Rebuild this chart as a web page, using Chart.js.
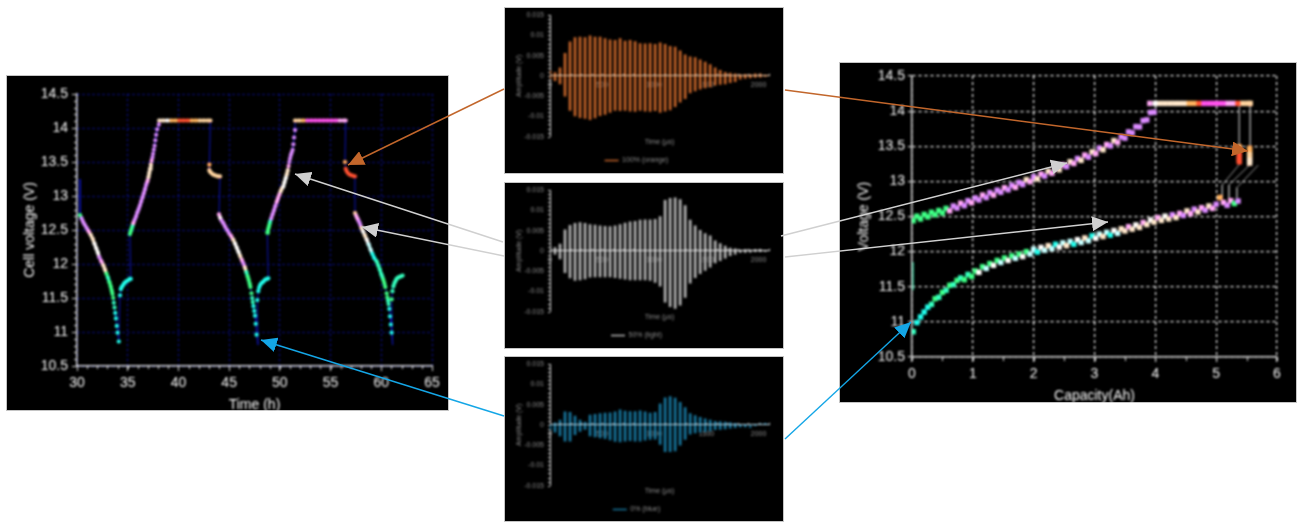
<!DOCTYPE html>
<html>
<head>
<meta charset="utf-8">
<title>Cell voltage and acoustic signals</title>
<script src="https://cdn.jsdelivr.net/npm/chart.js@4/dist/chart.umd.js"></script>
<style>
  html, body { margin: 0; background: #fff; width: 1297px; height: 522px; overflow: hidden; }
  .panel { position: absolute; background: #000; outline: 1px solid #c4c4c4; outline-offset: -1px; overflow: hidden; }
  .panel canvas { display: block; filter: blur(0.8px) brightness(1.1); }
  .panel.wave canvas { filter: blur(0.8px); }
  #arrows { position: absolute; left: 0; top: 0; pointer-events: none; }
</style>
</head>
<body>
<div class="panel" style="left:6px;top:75px;width:443px;height:336px"><canvas id="timeChart" width="443" height="336"></canvas></div>
<div class="panel wave" style="left:504px;top:7px;width:280px;height:167px"><canvas id="wave100" width="280" height="167"></canvas></div>
<div class="panel wave" style="left:504px;top:182px;width:280px;height:167px"><canvas id="wave50" width="280" height="167"></canvas></div>
<div class="panel wave" style="left:504px;top:356px;width:280px;height:166px"><canvas id="wave0" width="280" height="167"></canvas></div>
<div class="panel" style="left:839px;top:62px;width:458px;height:341px"><canvas id="capChart" width="458" height="341"></canvas></div>

<!-- arrows between the panels -->
<svg id="arrows" width="1297" height="522">
  <defs>
    <marker id="headO" markerUnits="userSpaceOnUse" markerWidth="17" markerHeight="15" refX="16" refY="7.5" orient="auto"><path d="M0 0L16 7.5L0 15z" fill="#c2662b"/></marker>
    <marker id="headG" markerUnits="userSpaceOnUse" markerWidth="17" markerHeight="15" refX="16" refY="7.5" orient="auto"><path d="M0 0L16 7.5L0 15z" fill="#d0d0d0"/></marker>
    <marker id="headB" markerUnits="userSpaceOnUse" markerWidth="17" markerHeight="15" refX="16" refY="7.5" orient="auto"><path d="M0 0L16 7.5L0 15z" fill="#14a6e6"/></marker>
  </defs>
  <g fill="none" stroke-width="1.4">
    <line x1="504" y1="89" x2="348" y2="165" stroke="#c2662b" marker-end="url(#headO)"/>
    <line x1="503" y1="242" x2="295" y2="174" stroke="#d0d0d0" marker-end="url(#headG)"/>
    <line x1="504" y1="256" x2="362" y2="227" stroke="#d0d0d0" marker-end="url(#headG)"/>
    <line x1="504" y1="416" x2="261" y2="340" stroke="#14a6e6" marker-end="url(#headB)"/>
    <line x1="785" y1="90" x2="1248" y2="151" stroke="#c2662b" marker-end="url(#headO)"/>
    <line x1="781" y1="236" x2="1067" y2="163" stroke="#d0d0d0" marker-end="url(#headG)"/>
    <line x1="785" y1="257" x2="1108" y2="222" stroke="#d0d0d0" marker-end="url(#headG)"/>
    <line x1="785" y1="439" x2="911" y2="322" stroke="#14a6e6" marker-end="url(#headB)"/>
  </g>
</svg>

<script>
// Left chart: cell voltage vs time, one line per run
const cellTime = [
  30.3,
  30.3,30.45,30.6,30.75,30.95,31.15,31.35,31.55,31.72,31.9,32.05,32.2,32.4,32.6,32.75,32.9,33.05,33.2,33.32,33.42,33.5,33.57,33.63,33.7,33.77,33.84,33.92,34.0,34.12,
  34.24,34.32,34.4,34.5,34.62,34.75,34.9,35.05,35.2,35.3,
  35.22,35.3,35.38,35.47,35.55,35.68,35.82,35.95,36.08,36.2,36.33,36.46,36.58,36.7,36.83,36.95,37.05,37.13,37.2,37.28,37.36,37.44,37.5,37.57,37.65,37.72,37.8,37.9,38.07,
  38.1,38.5,38.9,39.3,39.7,40.1,40.5,40.9,41.3,41.7,42.1,42.5,42.9,43.15,
  43.05,43.05,43.15,43.3,43.5,43.7,43.9,44.1,
  44.0,44.12,44.25,44.43,44.6,44.8,45.0,45.2,45.4,45.58,45.75,45.92,46.08,46.25,46.4,46.55,46.7,46.82,46.92,47.02,47.1,47.2,47.27,47.33,47.4,47.48,47.55,47.62,47.7,47.85,
  47.78,47.87,47.95,48.05,48.2,48.37,48.55,48.72,48.86,
  48.76,48.83,48.9,48.97,49.03,49.15,49.28,49.42,49.55,49.7,49.82,49.95,50.08,50.2,50.34,50.45,50.57,50.68,50.78,50.86,50.93,51.0,51.08,51.17,51.26,51.33,51.4,51.5,
  51.5,51.9,52.3,52.7,53.1,53.5,53.9,54.3,54.7,55.1,55.5,55.9,56.3,56.49,
  56.42,56.49,56.6,56.75,56.95,57.15,57.4,
  57.41,57.52,57.65,57.78,57.9,58.05,58.2,58.38,58.56,58.75,58.95,59.12,59.3,59.54,59.7,59.85,60.0,60.1,60.2,60.3,60.4,60.53,60.6,60.66,60.72,60.79,60.86,60.94,61.02,61.12,
  61.02,61.1,61.19,61.3,61.4,61.5,61.65,61.8,61.95,62.1
];
const cellVolt = [
  13.25,
  12.72,12.67,12.62,12.58,12.53,12.48,12.43,12.37,12.3,12.23,12.17,12.1,12.04,11.98,11.92,11.86,11.8,11.73,11.67,11.61,11.56,11.5,11.43,11.36,11.28,11.2,11.09,10.99,10.86,
  11.54,11.63,11.66,11.68,11.71,11.73,11.75,11.76,11.78,11.78,
  12.44,12.48,12.52,12.56,12.6,12.65,12.7,12.76,12.81,12.86,12.92,12.98,13.04,13.1,13.17,13.22,13.28,13.34,13.4,13.46,13.52,13.57,13.62,13.68,13.74,13.82,13.9,13.98,14.05,
  14.11,14.11,14.11,14.11,14.11,14.11,14.11,14.11,14.11,14.11,14.11,14.11,14.11,14.11,
  13.46,13.38,13.35,13.33,13.31,13.3,13.29,13.29,
  12.73,12.68,12.64,12.6,12.55,12.5,12.45,12.41,12.36,12.3,12.24,12.18,12.12,12.06,12.01,11.95,11.88,11.82,11.77,11.71,11.66,11.57,11.5,11.44,11.38,11.31,11.24,11.12,10.96,10.81,
  11.47,11.6,11.65,11.69,11.72,11.74,11.77,11.78,11.79,
  12.46,12.5,12.54,12.58,12.62,12.67,12.73,12.79,12.85,12.92,12.97,13.02,13.07,13.11,13.14,13.2,13.26,13.32,13.38,13.44,13.5,13.55,13.6,13.64,13.68,13.76,13.86,13.97,
  14.11,14.11,14.11,14.11,14.11,14.11,14.11,14.11,14.11,14.11,14.11,14.11,14.11,14.11,
  13.5,13.4,13.36,13.33,13.31,13.3,13.29,
  12.75,12.71,12.67,12.63,12.59,12.53,12.48,12.42,12.36,12.29,12.21,12.15,12.09,12.04,11.98,11.92,11.85,11.81,11.77,11.72,11.66,11.57,11.51,11.46,11.41,11.34,11.23,11.11,10.99,10.81,
  11.48,11.6,11.67,11.72,11.75,11.78,11.8,11.81,11.82,11.83
];
// tint per point: lower case joins to the next point as a band, upper case is a lone dot, '.' is no dot
const cellTint = (
  '.' +
  'gvvvvpccwwwvpccgtgggg' + 'GTTAAAAA' +
  'Aaaaaaaaaa' +
  'gggtpvvvvvvvvvvpcccc' + 'PVVVVVVVV' +
  'ccwoorrrookkkk' +
  'Okkkkkkk' +
  'pwvvvvvpcwwwcpvctgggg' + 'GTTAAAAA.' +
  'AAaaaaaaa' +
  'ggggtvvvvpppccwwwcc' + 'PVVVVVVVV' +
  'kkommmmmmmmppp' +
  'Orrrrrr' +
  'kppvvcwcwllaatttttggg' + 'GGTTAAAA.' +
  'GTtttttttt'
).split('');

// Right chart: voltage vs capacity (the markers zigzag along each branch)
const chargeCap = [0.02,0.08,0.14,0.2,0.26,0.32,0.38,0.44,0.5,0.56,0.62,0.68,0.74,0.8,0.86,0.92,0.98,1.04,1.1,1.16,1.22,1.28,1.34,1.4,1.46,1.52,1.58,1.64,1.7,1.76,1.82,1.88,1.94,2.0,2.06,2.12,2.18,2.24,2.3,2.36,2.42,2.48,2.54,2.6,2.66,2.72,2.78,2.84,2.9,2.96,3.02,3.08,3.14,3.2,3.26,3.32,3.38,3.44,3.5,3.56,3.62,3.68,3.74,3.8,3.86,3.92,3.98];
const chargeVolt = [12.44,12.505,12.465,12.53,12.495,12.56,12.525,12.585,12.55,12.615,12.58,12.65,12.62,12.69,12.655,12.725,12.695,12.765,12.735,12.805,12.77,12.84,12.805,12.875,12.845,12.91,12.88,12.945,12.915,12.985,12.955,13.025,12.995,13.065,13.035,13.105,13.075,13.145,13.115,13.19,13.165,13.235,13.21,13.28,13.255,13.325,13.3,13.375,13.345,13.42,13.395,13.475,13.45,13.525,13.505,13.58,13.555,13.635,13.615,13.705,13.69,13.78,13.775,13.865,13.875,13.98,13.985];
const chargeTint = ('gggggggggg' + 'pvvpvvpvvpvvpvvpvvpvv' + 'cpvcpvcpvcpvcpvcpvcpvcpvcpv' + 'vvvvvvvvv').split('');
const dischargeCap = [0.02,0.08,0.14,0.2,0.26,0.32,0.38,0.44,0.5,0.56,0.62,0.68,0.74,0.8,0.86,0.92,0.98,1.04,1.1,1.16,1.22,1.28,1.34,1.4,1.46,1.52,1.58,1.64,1.7,1.76,1.82,1.88,1.94,2.0,2.06,2.12,2.18,2.24,2.3,2.36,2.42,2.48,2.54,2.6,2.66,2.72,2.78,2.84,2.9,2.96,3.02,3.08,3.14,3.2,3.26,3.32,3.38,3.44,3.5,3.56,3.62,3.68,3.74,3.8,3.86,3.92,3.98,4.04,4.1,4.16,4.22,4.28,4.34,4.4,4.46,4.52,4.58,4.64,4.7,4.76,4.82,4.88,4.94,5.0,5.06,5.12,5.18,5.24,5.3,5.36];
const dischargeVolt = [10.86,10.99,11.07,11.14,11.21,11.25,11.33,11.35,11.42,11.45,11.52,11.53,11.59,11.625,11.6,11.675,11.645,11.725,11.705,11.785,11.76,11.83,11.805,11.875,11.845,11.91,11.875,11.94,11.905,11.965,11.93,12.0,11.965,12.035,11.995,12.06,12.02,12.085,12.045,12.105,12.065,12.125,12.085,12.145,12.105,12.17,12.13,12.195,12.155,12.225,12.19,12.25,12.215,12.275,12.235,12.3,12.26,12.325,12.295,12.355,12.32,12.38,12.345,12.415,12.385,12.45,12.42,12.485,12.445,12.505,12.465,12.525,12.485,12.545,12.515,12.58,12.54,12.605,12.565,12.625,12.59,12.65,12.615,12.675,12.77,12.7,12.66,12.725,12.685,12.72];
const dischargeTint = ('taaaa' + 'tgtgtgtgtgtg' + 'gwglgwglgwglgwgl' + 'lawlclawlclawlclawlclawlc' + 'cpcwcpcwcpcwc' + 'vcpvcpvcpvcpv' + 'opvpgv').split('');
const holdCap = [3.91,4.0,4.08,4.16,4.24,4.32,4.4,4.48,4.56,4.64,4.72,4.8,4.88,4.96,5.04,5.12,5.2,5.28,5.36,5.44,5.52,5.56];
const holdVolt = [14.11,14.11,14.11,14.11,14.11,14.11,14.11,14.11,14.11,14.11,14.11,14.11,14.11,14.11,14.11,14.11,14.11,14.11,14.11,14.11,14.11,14.11];
const holdTint = 'pwccccccoormmmmmpprkkk'.split('');
const restACap = [5.38,5.38,5.38,5.38,5.38,5.38];
const restAVolt = [13.49,13.44,13.39,13.35,13.31,13.28];
const restATint = 'orrrrr'.split('');
const restBCap = [5.55,5.55,5.55,5.55,5.55,5.55];
const restBVolt = [13.47,13.42,13.38,13.34,13.3,13.26];
const restBTint = 'ookkcc'.split('');
const slagCap = [0.02,0.02];
const slagVolt = [11.45,11.85];
const dropACap = [5.38,5.38], dropAVolt = [14.11,13.49];
const dropBCap = [5.56,5.56], dropBVolt = [14.11,13.47];
const linkACap = [5.39,5.10,5.10], linkAVolt = [13.25,12.95,12.76];
const linkBCap = [5.57,5.21,5.21], linkBVolt = [13.25,12.95,12.76];
const linkCCap = [5.69,5.34,5.34], linkCVolt = [13.23,12.91,12.76];

// Middle panels: peak of each oscillation, read from the envelopes
const waveTicks = [0,500,1000,1500,2000];
const waveTime = [0,48,96,144,192,240,288,336,384,432,480,528,576,624,672,720,768,816,864,912,960,1008,1056,1104,1152,1200,1248,1296,1344,1392,1440,1488,1536,1584,1632,1680,1728,1776,1824,1872,1920,1968,2016,2064];
const orangeUp = [.0012,.0008,.002,.0056,.0084,.0095,.0096,.0095,.0099,.0096,.0096,.0092,.0089,.0088,.0092,.0086,.0088,.0085,.008,.0079,.008,.0078,.0082,.0078,.0073,.0071,.0062,.0052,.0047,.0045,.004,.0034,.0028,.002,.0014,.0009,.0007,.0005,.0003,.0004,.0003,.0005,.0005,.0002];
const orangeLow = [-.0006,-.0012,-.002,-.005,-.0085,-.0099,-.0103,-.0105,-.0108,-.0104,-.0098,-.0095,-.009,-.0085,-.0086,-.0085,-.0087,-.0088,-.0085,-.0087,-.0088,-.0086,-.009,-.0087,-.0084,-.0076,-.0065,-.0056,-.0042,-.0037,-.0033,-.003,-.0027,-.0023,-.0021,-.002,-.0017,-.0014,-.0008,-.0006,-.0005,-.0004,-.0003,-.0001];
const greyUp = [.001,.0008,.0017,.0052,.0063,.0068,.007,.0068,.0065,.0064,.0062,.0061,.006,.0062,.0065,.0069,.0072,.0073,.0076,.0077,.0077,.0078,.0085,.0125,.013,.0131,.0127,.0112,.0076,.0062,.0051,.0043,.0037,.0025,.0018,.0012,.0007,.0005,.0002,.0003,.0002,.0003,.0003,.0001];
const greyLow = [-.0004,-.0008,-.002,-.0054,-.0067,-.0073,-.0072,-.0069,-.0065,-.0064,-.0064,-.0064,-.0064,-.0066,-.0068,-.007,-.0072,-.0072,-.0072,-.0072,-.0073,-.0078,-.0087,-.0127,-.0138,-.0142,-.0134,-.0115,-.008,-.0066,-.0056,-.0048,-.004,-.003,-.0024,-.0018,-.0012,-.0008,-.0004,-.0004,-.0003,-.0002,-.0002,-.0001];
const blueUp = [.0001,.0005,.0012,.0032,.0031,.0022,.0012,.0007,.0024,.0026,.0028,.0029,.003,.0032,.0037,.0034,.0033,.0033,.0035,.0032,.0029,.0031,.0052,.0067,.007,.0066,.0056,.0043,.0028,.0023,.0019,.0015,.0012,.0009,.0008,.0007,.0006,.0004,.0001,-.0001,-.0002,.0001,.0003,.0004];
const blueLow = [-.0012,-.0018,-.0027,-.004,-.004,-.0024,-.0016,-.0011,-.0027,-.003,-.0032,-.0034,-.0037,-.0041,-.0042,-.004,-.0039,-.004,-.004,-.0038,-.0036,-.0035,-.0048,-.0066,-.0066,-.0064,-.005,-.0036,-.0023,-.002,-.0018,-.0017,-.0015,-.0012,-.0011,-.001,-.0008,-.0007,-.0005,-.0005,-.0006,-.0002,.0001,.0002];

const TINTS = {
  v: '#c77ef4', p: '#f09ade', c: '#ffd2b8', w: '#efe6e4', l: '#b4f4ea',
  g: '#38e878', t: '#30e8ac', a: '#1ee6d6', o: '#ffa255', k: '#ffc090',
  r: '#f2492c', m: '#f04ad6'
};
const NAVY = '#0c12a8';
const tintOf = code => TINTS[code.toLowerCase()];
const FONT = 'Arial, "Liberation Sans", sans-serif';

Chart.defaults.animation = false;
Chart.defaults.responsive = false;
Chart.defaults.font.family = FONT;

// small unlabelled ticks along the axes
const minorTicks = {
  id: 'minorTicks',
  afterDatasetsDraw(chart, args, o) {
    const { ctx, chartArea: a, scales: { x, y } } = chart;
    ctx.save();
    ctx.strokeStyle = o.color;
    ctx.lineWidth = 1;
    ctx.beginPath();
    const n = o.yStep ? Math.round((y.max - y.min) / o.yStep) : -1;
    for (let i = 0; i <= n; i++) {
      const py = Math.round(y.getPixelForValue(y.min + i * o.yStep)) + 0.5;
      ctx.moveTo(a.left - o.len, py);
      ctx.lineTo(a.left, py);
    }
    const m = Math.round((x.max - x.min) / o.xStep);
    const base = o.xAtZero ? y.getPixelForValue(0) : a.bottom;
    for (let i = 0; i <= m; i++) {
      const px = Math.round(x.getPixelForValue(x.min + i * o.xStep)) + 0.5;
      ctx.moveTo(px, base);
      ctx.lineTo(px, base + (o.xAtZero ? -o.len : o.len));
    }
    ctx.stroke();
    ctx.restore();
  }
};

// a band only joins neighbours of one run: both lower case and no voltage jump
function isBand(c) {
  const a = cellTint[c.p0DataIndex], b = cellTint[c.p1DataIndex];
  return /[a-z]/.test(a) && /[a-z]/.test(b) && Math.abs(c.p0.parsed.y - c.p1.parsed.y) < 0.3;
}

// ---- time chart
new Chart(document.getElementById('timeChart'), {
  type: 'scatter',
  plugins: [minorTicks],
  data: {
    datasets: [{
      label: 'Cell voltage',
      data: cellTime.map((t, i) => ({ x: t, y: cellVolt[i] })),
      showLine: true,
      borderColor: NAVY,
      borderWidth: 1,
      pointRadius: c => cellTint[c.dataIndex] === '.' ? 0 : 2.1,
      pointBorderWidth: 0,
      pointBackgroundColor: c => cellTint[c.dataIndex] === '.' ? NAVY : tintOf(cellTint[c.dataIndex]),
      segment: {
        borderColor: c => isBand(c) ? TINTS[cellTint[c.p0DataIndex]] : NAVY,
        borderWidth: c => isBand(c) ? 3.4 : 1
      }
    }]
  },
  options: {
    layout: { padding: { top: 19, right: 17 } },
    plugins: {
      legend: { display: false },
      tooltip: { enabled: false },
      minorTicks: { xStep: 1, yStep: 0.1, len: 3, color: '#c8c8c8' }
    },
    scales: {
      x: {
        min: 30, max: 65,
        afterFit: s => { s.height = 45; },
        ticks: { stepSize: 5, color: '#e4e4e4', font: { size: 14 }, padding: 4, maxRotation: 0 },
        grid: { color: NAVY, tickColor: '#c8c8c8', tickLength: 5 },
        border: { color: '#c8c8c8', width: 1.5, dash: [2, 3] },
        title: { display: true, text: 'Time (h)', color: '#e4e4e4', font: { size: 14 }, padding: { top: 0, bottom: -3 } }
      },
      y: {
        min: 10.5, max: 14.5,
        afterFit: s => { s.width = 71; },
        ticks: { stepSize: 0.5, color: '#e4e4e4', font: { size: 14 }, padding: 4, callback: v => String(v) },
        grid: { color: NAVY, tickColor: '#c8c8c8', tickLength: 5 },
        border: { color: '#c8c8c8', width: 1.5, dash: [2, 3] },
        title: { display: true, text: 'Cell voltage (V)', color: '#e4e4e4', font: { size: 14 }, padding: { top: 16, bottom: 0 } }
      }
    }
  }
});

// ---- capacity chart
const squares = (cap, volt, tint, label) => ({
  label,
  data: cap.map((c, i) => ({ x: c, y: volt[i] })),
  showLine: false,
  pointStyle: 'rect',
  pointRadius: 3.8,
  pointBorderWidth: 0,
  pointBackgroundColor: tint.map(tintOf)
});
const thinLine = (cap, volt, color, label) => ({
  label,
  data: cap.map((c, i) => ({ x: c, y: volt[i] })),
  showLine: true,
  borderColor: color,
  borderWidth: 1,
  pointRadius: 0
});

new Chart(document.getElementById('capChart'), {
  type: 'scatter',
  plugins: [minorTicks],
  data: {
    datasets: [
      squares(restACap, restAVolt, restATint, 'Rest A'),
      squares(restBCap, restBVolt, restBTint, 'Rest B'),
      squares(holdCap, holdVolt, holdTint, 'Hold'),
      squares(chargeCap, chargeVolt, chargeTint, 'Charge'),
      squares(dischargeCap, dischargeVolt, dischargeTint, 'Discharge'),
      thinLine(slagCap, slagVolt, TINTS.t, 'Slag'),
      thinLine(dropACap, dropAVolt, '#8a8a8a', 'Drop A'),
      thinLine(dropBCap, dropBVolt, '#8a8a8a', 'Drop B'),
      thinLine(linkACap, linkAVolt, '#8a8a8a', 'Link A'),
      thinLine(linkBCap, linkBVolt, '#8a8a8a', 'Link B'),
      thinLine(linkCCap, linkCVolt, '#8a8a8a', 'Link C')
    ]
  },
  options: {
    layout: { padding: { top: 14, right: 20 } },
    plugins: {
      legend: { display: false },
      tooltip: { enabled: false },
      minorTicks: { xStep: 0.5, yStep: 0, len: 4, color: '#c8c8c8' }
    },
    scales: {
      x: {
        min: 0, max: 6,
        afterFit: s => { s.height = 46; },
        ticks: { stepSize: 1, color: '#e4e4e4', font: { size: 14 }, padding: 4, maxRotation: 0 },
        grid: { color: '#e4e4e4', lineWidth: 1.2, tickColor: '#c8c8c8', tickLength: 5 },
        border: { color: '#c8c8c8', width: 1.5, dash: [3, 3] },
        title: { display: true, text: 'Capacity(Ah)', color: '#e4e4e4', font: { size: 14 }, padding: { top: 0, bottom: -2 } }
      },
      y: {
        min: 10.5, max: 14.5,
        afterFit: s => { s.width = 73; },
        ticks: { stepSize: 0.5, color: '#e4e4e4', font: { size: 14 }, padding: 3, callback: v => String(v) },
        grid: { color: '#e4e4e4', lineWidth: 1.2, tickColor: '#c8c8c8', tickLength: 4 },
        border: { color: '#c8c8c8', width: 1.5, dash: [3, 3] },
        title: { display: true, text: 'Voltage (V)', color: '#e4e4e4', font: { size: 14 }, padding: { top: 17, bottom: 0 } }
      }
    }
  }
});

// ---- waveform panels
const WAVE_TEXT = '#8c8c8c';
function waveChart(id, label, color, zeroColor, up, low) {
  new Chart(document.getElementById(id), {
    type: 'bar',
    plugins: [minorTicks],
    data: {
      datasets: [{
        label,
        data: waveTime.map((t, i) => ({ x: t, y: [low[i], up[i]] })),
        backgroundColor: color,
        borderColor: color,
        borderWidth: 0,
        barThickness: 2
      }]
    },
    options: {
      layout: { padding: { top: 8, right: 15, bottom: 0 } },
      plugins: {
        tooltip: { enabled: false },
        minorTicks: { xStep: 100, yStep: 0.001, len: 2, color: '#cfcfcf', xAtZero: true },
        title: {
          display: true, text: 'Time (µs)', position: 'bottom', weight: 500, fullSize: false,
          color: WAVE_TEXT, font: { size: 7, weight: 'normal' }, padding: { top: 1, bottom: 8 }
        },
        legend: {
          position: 'bottom',
          labels: {
            font: { size: 7 }, color: WAVE_TEXT, usePointStyle: true, pointStyle: 'line',
            pointStyleWidth: 14, boxHeight: 6, padding: 3,
            generateLabels: () => [{ text: label, fillStyle: color, strokeStyle: color, lineWidth: 1.5, pointStyle: 'line', fontColor: WAVE_TEXT }]
          }
        }
      },
      scales: {
        x: {
          type: 'linear', position: { y: 0 }, min: 0, max: 2100, offset: false,
          afterBuildTicks: s => { s.ticks = waveTicks.map(v => ({ value: v })); },
          ticks: { color: WAVE_TEXT, font: { size: 7 }, padding: 3, maxRotation: 0, callback: v => String(v) },
          grid: { display: false, offset: false, tickLength: 2 },
          border: { color: zeroColor, width: 1, z: 1 }
        },
        y: {
          min: -0.015, max: 0.015,
          afterFit: s => { s.width = 46; },
          ticks: { stepSize: 0.005, color: WAVE_TEXT, font: { size: 7 }, padding: 4, callback: v => v === 0 ? '0' : String(+v.toFixed(3)) },
          grid: { display: false, tickLength: 2 },
          border: { color: '#cfcfcf', width: 1 },
          title: { display: true, text: 'Amplitude (V)', color: WAVE_TEXT, font: { size: 7 }, padding: { top: 11, bottom: 0 } }
        }
      }
    }
  });
}
waveChart('wave100', '100% (orange)', '#c8662a', '#ecc9a8', orangeUp, orangeLow);
waveChart('wave50', '50% (light)', '#b8b8b8', '#ececec', greyUp, greyLow);
waveChart('wave0', '0% (blue)', '#17779f', '#bcd6e2', blueUp, blueLow);
</script>
</body>
</html>
